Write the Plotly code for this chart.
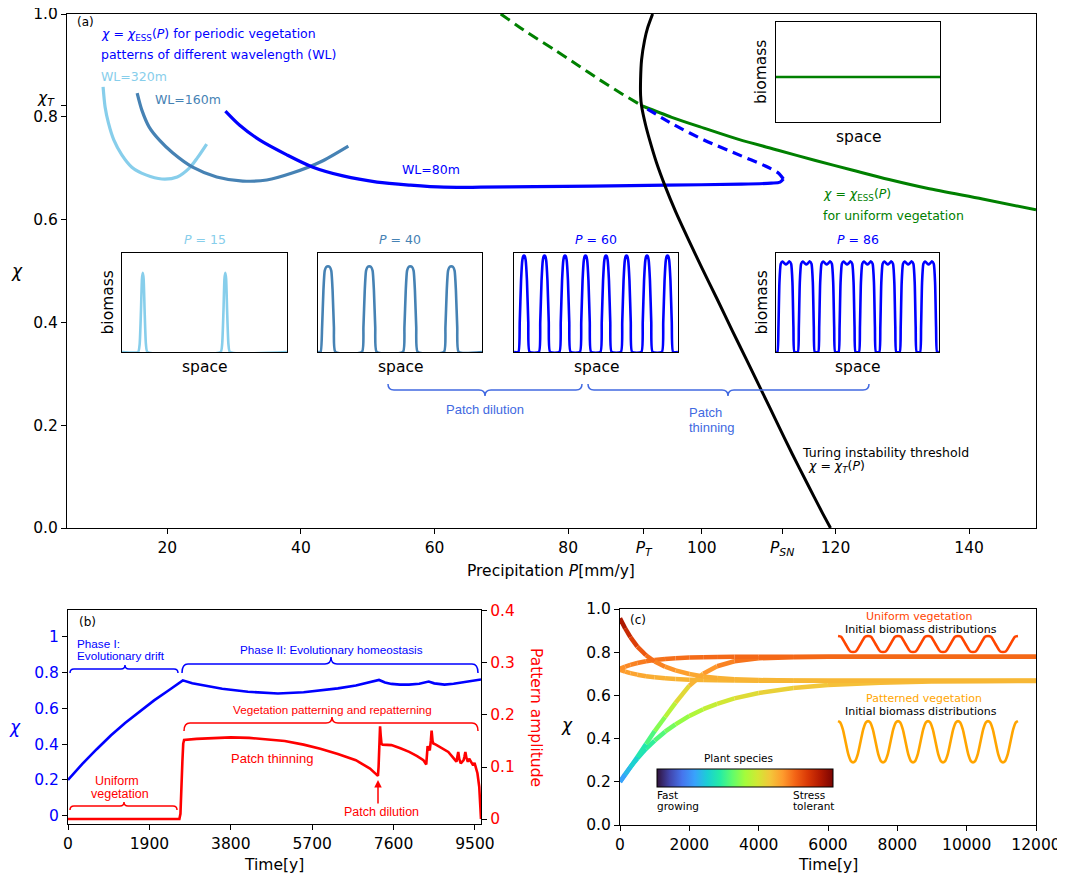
import plotly.graph_objects as go
from plotly.colors import sample_colorscale, sequential

# page is 1065x876; the plot div sits 8px in from the page corner (default body margin)
OFF = 8
FW, FH = 1065 - OFF, 876 - OFF
FONT = "DejaVu Sans"
ARIAL = "Liberation Sans"


def PX(x):
    return (x - OFF) / FW


def PY(y):
    return 1 - (y - OFF) / FH


# ======================= DATA =======================
# ---- Panel (a): precipitation P [mm/y] vs chi ----
TURING_P = [92.63, 91.88, 91.43, 90.98, 90.83, 90.83, 90.98, 91.58, 92.18, 93.23,
            94.44, 96.09, 97.89, 100.0, 102.26, 104.51, 106.77, 109.02, 111.28, 113.53,
            115.79, 118.05, 119.25]
TURING_CHI = [1.0, 0.973, 0.949, 0.911, 0.872, 0.842, 0.821, 0.784, 0.755, 0.710,
              0.667, 0.615, 0.564, 0.506, 0.446, 0.385, 0.325, 0.265, 0.204, 0.144,
              0.086, 0.029, 0.0]

UNI_UNSTABLE_P = [69.9, 74.0, 78.0, 81.5, 84.7, 88.0, 91.1]
UNI_UNSTABLE_CHI = [1.0, 0.963, 0.930, 0.90, 0.872, 0.845, 0.821]
UNI_STABLE_P = [91.1, 95.5, 100.3, 105.5, 111.4, 117.0, 122.6, 128.0, 133.7, 142.0, 150.0]
UNI_STABLE_CHI = [0.821, 0.799, 0.778, 0.756, 0.735, 0.715, 0.696, 0.678, 0.661, 0.64, 0.619]

WL80_P = [28.7, 30.8, 33.8, 37.9, 41.8, 46.3, 51.4, 56.4, 61.4, 66.9,
          75.0, 83.6, 94.7, 105.9, 110.4, 111.7, 112.2]
WL80_CHI = [0.811, 0.784, 0.755, 0.726, 0.702, 0.685, 0.673, 0.667, 0.663, 0.663,
            0.664, 0.665, 0.667, 0.669, 0.671, 0.673, 0.679]
WL80_UNST_P = [112.2, 111.4, 109.2, 105.9, 100.3, 95.9, 91.1]
WL80_UNST_CHI = [0.679, 0.691, 0.706, 0.724, 0.755, 0.784, 0.821]
WL160_P = [15.5, 16.2, 17.3, 18.8, 20.8, 23.8, 27.4, 31.3, 34.9, 38.8, 42.9, 47.1]
WL160_CHI = [0.846, 0.813, 0.780, 0.755, 0.730, 0.702, 0.683, 0.675, 0.677, 0.691, 0.712, 0.743]
WL320_P = [10.4, 10.7, 11.2, 12.0, 13.2, 14.7, 16.8, 19.2, 21.5, 23.3, 24.5, 25.9]
WL320_CHI = [0.858, 0.819, 0.788, 0.755, 0.726, 0.702, 0.687, 0.679, 0.683, 0.700, 0.720, 0.747]

XTICKS_A = [20, 40, 60, 80, 91.3, 100, 112, 120, 140]
XTICKTEXT_A = ["20", "40", "60", "80", "<i>P</i><sub><i>T</i></sub>", "100",
               "<i>P</i><sub><i>SN</i></sub>", "120", "140"]
YTICKS_A = [0.0, 0.2, 0.4, 0.6, 0.8, 0.822, 1.0]
YTICKTEXT_A = ["0.0", "0.2", "0.4", "0.6", "0.8", "", "1.0"]
CHI_T_LABEL = "<i>χ</i><sub><i>T</i></sub>"

# ---- insets: space in [0,1], biomass in [0,1] ----
P15_PEAKS = [0.126, 0.626]
P15_OFFSETS = [-0.028, -0.019, -0.011, -0.005, 0.0, 0.005, 0.011, 0.019, 0.028]
P15_HEIGHTS = [0.0, 0.08, 0.42, 0.74, 0.80, 0.74, 0.42, 0.08, 0.0]
P40_PEAKS = [0.061, 0.313, 0.563, 0.813]
P40_OFFSETS = [-0.045, -0.036, -0.028, -0.02, -0.01, 0.0, 0.01, 0.02, 0.028, 0.036, 0.045]
P40_HEIGHTS = [0.0, 0.25, 0.62, 0.82, 0.86, 0.865, 0.86, 0.82, 0.62, 0.25, 0.0]
P60_PEAKS = [0.061, 0.186, 0.311, 0.436, 0.561, 0.686, 0.811, 0.936]
P60_OFFSETS = [-0.034, -0.026, -0.018, -0.01, -0.004, 0.0, 0.004, 0.01, 0.018, 0.026, 0.034]
P60_HEIGHTS = [0.0, 0.3, 0.72, 0.93, 0.97, 0.975, 0.97, 0.93, 0.72, 0.3, 0.0]
P86_PEAKS = [0.061, 0.186, 0.311, 0.436, 0.561, 0.686, 0.811, 0.936]
P86_OFFSETS = [-0.052, -0.046, -0.04, -0.032, -0.022, -0.012, 0.0, 0.012, 0.022, 0.032, 0.04, 0.046, 0.052]
P86_HEIGHTS = [0.0, 0.25, 0.7, 0.89, 0.915, 0.9, 0.885, 0.9, 0.915, 0.89, 0.7, 0.25, 0.0]
UNIFORM_SPACE = [0.0, 1.0]
UNIFORM_BIOMASS = [0.45, 0.45]

# ---- Panel (b): time [y] ----
B_T_CHI = [0, 335, 670, 1005, 1340, 1675, 2010, 2345, 2680, 2900,
           3200, 3600, 4200, 4900, 5500, 5900, 6300, 6720, 7000, 7260,
           7400, 7550, 7750, 7960, 8200, 8420, 8550, 8790, 9000, 9210,
           9400, 9641]
B_CHI = [0.2, 0.29, 0.372, 0.45, 0.52, 0.585, 0.645, 0.70, 0.757, 0.74,
         0.726, 0.71, 0.693, 0.683, 0.69, 0.70, 0.712, 0.728, 0.742, 0.759,
         0.745, 0.737, 0.733, 0.733, 0.738, 0.75, 0.74, 0.733, 0.738, 0.746,
         0.75, 0.762]
B_T_AMP = [0, 2600, 2625, 2650, 2670, 2690, 2710, 3000, 3400, 3800,
           4230, 4700, 5060, 5500, 5890, 6300, 6720, 7050, 7235, 7250,
           7265, 7285, 7300, 7318, 7343, 7550, 7760, 7965, 8150, 8297,
           8363, 8375, 8395, 8420, 8445, 8470, 8488, 8510, 8529, 8587,
           8750, 8878, 9000, 9068, 9090, 9110, 9135, 9168, 9200, 9235,
           9255, 9276, 9300, 9334, 9365, 9400, 9458, 9490, 9520, 9558,
           9600, 9625, 9641]
B_AMP = [0, 0, 0.01, 0.05, 0.11, 0.145, 0.152, 0.154, 0.156, 0.157,
         0.156, 0.153, 0.150, 0.143, 0.135, 0.125, 0.113, 0.097, 0.083, 0.10,
         0.14, 0.178, 0.16, 0.145, 0.143, 0.142, 0.136, 0.129, 0.121, 0.113,
         0.105, 0.125, 0.14, 0.135, 0.132, 0.15, 0.170, 0.15, 0.145, 0.143,
         0.136, 0.129, 0.117, 0.110, 0.12, 0.129, 0.115, 0.107, 0.11, 0.113,
         0.12, 0.129, 0.118, 0.110, 0.116, 0.112, 0.103, 0.108, 0.1, 0.088,
         0.062, 0.030, 0.0]
XTICKS_B = [0, 1900, 3800, 5700, 7600, 9500]
YTICKS_B = [0, 0.2, 0.4, 0.6, 0.8, 1.0]
YTICKTEXT_B = ["0", "0.2", "0.4", "0.6", "0.8", "1"]
Y2TICKS_B = [0, 0.1, 0.2, 0.3, 0.4]
Y2TICKTEXT_B = ["0", "0.1", "0.2", "0.3", "0.4"]

# ---- Panel (c): time [y] vs chi of 5 trajectories ----
C_T = [0, 150, 300, 500, 750, 1000, 1300, 1600, 2000, 2400,
       2800, 3300, 4000, 5000, 6000, 7500, 9000, 10500, 12000]
C_CHI_1 = [0.957, 0.91, 0.87, 0.826, 0.786, 0.757, 0.733, 0.716, 0.699, 0.688,
           0.681, 0.675, 0.671, 0.669, 0.668, 0.668, 0.668, 0.668, 0.668]
C_CHI_2 = [0.724, 0.733, 0.741, 0.75, 0.758, 0.764, 0.769, 0.772, 0.775, 0.777,
           0.778, 0.779, 0.779, 0.779, 0.779, 0.779, 0.779, 0.779, 0.779]
C_CHI_3 = [0.718, 0.71, 0.703, 0.696, 0.689, 0.684, 0.679, 0.676, 0.673, 0.671,
           0.67, 0.669, 0.668, 0.668, 0.668, 0.668, 0.668, 0.668, 0.668]
C_CHI_4 = [0.2, 0.233, 0.268, 0.315, 0.375, 0.435, 0.5, 0.565, 0.645, 0.70,
           0.735, 0.758, 0.772, 0.777, 0.779, 0.779, 0.779, 0.779, 0.779]
C_CHI_5 = [0.2, 0.236, 0.268, 0.308, 0.353, 0.391, 0.432, 0.466, 0.505, 0.536,
           0.561, 0.586, 0.611, 0.634, 0.648, 0.659, 0.664, 0.666, 0.667]
XTICKS_C = [0, 2000, 4000, 6000, 8000, 10000, 12000]
YTICKS_C = [0.0, 0.2, 0.4, 0.6, 0.8, 1.0]
YTICKTEXT_C = ["0.0", "0.2", "0.4", "0.6", "0.8", "1.0"]

# initial biomass distribution sketches (one period, phase -> relative level)
UNI_WAVE_PHASE = [0.0, 0.1, 0.25, 0.4, 0.5, 0.6, 0.75, 0.9]
UNI_WAVE_LEVEL = [1.0, 0.95, 0.5, 0.05, 0.0, 0.05, 0.5, 0.95]
PAT_WAVE_PHASE = [0.0, 0.07, 0.16, 0.25, 0.34, 0.43, 0.5, 0.57, 0.66, 0.75, 0.84, 0.93]
PAT_WAVE_LEVEL = [1.0, 0.97, 0.8, 0.5, 0.2, 0.03, 0.0, 0.03, 0.2, 0.5, 0.8, 0.97]

# ======================= FIGURE =======================
TURBO = sequential.Turbo
TURBO_SCALE = [[i / (len(TURBO) - 1), c] for i, c in enumerate(TURBO)]

fig = go.Figure()


def add_line(x, y, xa, ya, color, width, dash=None, shape="linear", smoothing=0.8):
    fig.add_trace(go.Scatter(
        x=x, y=y, xaxis=xa, yaxis=ya, mode="lines",
        line=dict(color=color, width=width, dash=dash, shape=shape,
                  smoothing=smoothing if shape == "spline" else None),
        showlegend=False, hoverinfo="skip"))


# ---- panel (a) curves ----
add_line(UNI_UNSTABLE_P, UNI_UNSTABLE_CHI, "x", "y", "#008000", 3, dash="11px,6px", shape="spline")
add_line(UNI_STABLE_P, UNI_STABLE_CHI, "x", "y", "#008000", 3, shape="spline")
add_line(WL320_P, WL320_CHI, "x", "y", "#87CEEB", 3.2, shape="spline")
add_line(WL160_P, WL160_CHI, "x", "y", "#4682B4", 3.2, shape="spline")
add_line(WL80_P, WL80_CHI, "x", "y", "#0000FF", 3.2, shape="spline")
add_line(WL80_UNST_P, WL80_UNST_CHI, "x", "y", "#0000FF", 3.2, dash="10px,6px", shape="spline")
add_line(TURING_P, TURING_CHI, "x", "y", "black", 3, shape="spline", smoothing=0.6)


def tile(peaks, offsets, heights):
    xs, ys = [0.0], [0.0]
    for c in peaks:
        for o, v in zip(offsets, heights):
            xs.append(c + o)
            ys.append(v)
    xs.append(1.0)
    ys.append(0.0)
    return xs, ys


# inset definitions: (box px: left, top, right, bottom), data, color, title, ylabel
INSETS = [
    ((122, 253, 287, 352), tile(P15_PEAKS, P15_OFFSETS, P15_HEIGHTS), "#87CEEB", "<i>P</i> = 15", True),
    ((318, 253, 482, 352), tile(P40_PEAKS, P40_OFFSETS, P40_HEIGHTS), "#4682B4", "<i>P</i> = 40", False),
    ((514, 253, 678, 352), tile(P60_PEAKS, P60_OFFSETS, P60_HEIGHTS), "#0000FF", "<i>P</i> = 60", False),
    ((776, 253, 939, 352), tile(P86_PEAKS, P86_OFFSETS, P86_HEIGHTS), "#0000FF", "<i>P</i> = 86", True),
    ((776, 22, 940, 122), (UNIFORM_SPACE, UNIFORM_BIOMASS), "#008000", None, True),
]

annotations = []
shapes = []


def ann(text, x, y, size=12.5, color="black", xanchor="center", yanchor="middle",
        family=FONT, angle=0):
    annotations.append(dict(text=text, x=PX(x), y=PY(y), xref="paper", yref="paper",
                            showarrow=False, xanchor=xanchor, yanchor=yanchor,
                            textangle=angle,
                            font=dict(size=size, color=color, family=family)))


layout_axes = {}
for i, (box, (sx, sy), col, title, ylab) in enumerate(INSETS):
    n = 5 + i
    l, t, r, b = box
    add_line(sx, sy, f"x{n}", f"y{n}", col, 2.6, shape="spline", smoothing=0.5)
    common = dict(range=[0, 1], showticklabels=False, ticks="", showline=True, mirror=True,
                  linecolor="black", linewidth=1.2, showgrid=False, zeroline=False)
    layout_axes[f"xaxis{n}"] = dict(domain=[PX(l), PX(r)], anchor=f"y{n}", **common)
    layout_axes[f"yaxis{n}"] = dict(domain=[PY(b), PY(t)], anchor=f"x{n}", **common)
    ann("space", (l + r) / 2, b + 15, size=15.5)
    if ylab:
        ann("biomass", l - 15, (t + b) / 2, size=15.5, angle=-90)
    if title:
        ann(title, (l + r) / 2, t - 13, size=12.5, color=col)

# ---- panel (b) ----
add_line(B_T_CHI, B_CHI, "x2", "y2", "#0000FF", 2.6)
add_line(B_T_AMP, B_AMP, "x2", "y3", "#FF0000", 2.6)

# ---- panel (c) ----
for curve in [C_CHI_5, C_CHI_4, C_CHI_3, C_CHI_2, C_CHI_1]:
    for k in range(len(C_T) - 1):
        v = (curve[k] + curve[k + 1]) / 2
        col = sample_colorscale(TURBO_SCALE, [min(max(v, 0), 1)])[0]
        add_line([C_T[k], C_T[k + 1]], [curve[k], curve[k + 1]], "x4", "y4", col, 4.5)


def wave(phase, level, lo, hi, start=6290, period=865, n=6):
    xs, ys = [], []
    for k in range(n):
        for ph, lv in zip(phase, level):
            xs.append(start + (k + ph) * period)
            ys.append(lo + lv * (hi - lo))
    xs.append(start + n * period)
    ys.append(hi)
    return xs, ys


ux, uy = wave(UNI_WAVE_PHASE, UNI_WAVE_LEVEL, 0.801, 0.875)
add_line(ux, uy, "x4", "y4", "#FF4500", 2.6, shape="spline", smoothing=0.6)
wx, wy = wave(PAT_WAVE_PHASE, PAT_WAVE_LEVEL, 0.290, 0.481)
add_line(wx, wy, "x4", "y4", "#FFA500", 2.6, shape="spline", smoothing=0.6)

# colorbar (plant species)
fig.add_trace(go.Scatter(
    x=[-5000], y=[-1], xaxis="x4", yaxis="y4", mode="markers",
    marker=dict(size=1, color=[0.5], colorscale=TURBO_SCALE, cmin=0, cmax=1, showscale=True,
                colorbar=dict(orientation="h", x=PX(745), xanchor="center",
                              y=PY(769), yanchor="top", len=176, lenmode="pixels",
                              thickness=18, thicknessmode="pixels", outlinewidth=1,
                              outlinecolor="black", showticklabels=False, ticks="",
                              xpad=0, ypad=0, borderwidth=0)),
    showlegend=False, hoverinfo="skip"))

# ======================= TEXT =======================
# panel (a)
ann("(a)", 75, 22, size=12, xanchor="left")
ann("<i>χ</i> = <i>χ</i><sub>ESS</sub>(<i>P</i>) for periodic vegetation", 99, 34,
    color="#0000FF", xanchor="left")
ann("patterns of different wavelength (WL)", 99, 54, color="#0000FF", xanchor="left")
ann("WL=320m", 99, 77, color="#87CEEB", xanchor="left")
ann("WL=160m", 153, 99, color="#4682B4", xanchor="left")
ann("WL=80m", 400, 169, color="#0000FF", xanchor="left")
ann("<i>χ</i> = <i>χ</i><sub>ESS</sub>(<i>P</i>)", 821, 195, color="#008000", xanchor="left")
ann("for uniform vegetation", 821, 215, color="#008000", xanchor="left")
ann("Turing instability threshold", 800, 452, xanchor="left")
ann("<i>χ</i> = <i>χ</i><sub><i>T</i></sub>(<i>P</i>)", 806, 467, xanchor="left")
ann("Patch dilution", 485, 410, size=13, color="#4169E1", family=ARIAL)
ann("Patch", 687, 412, size=13, color="#4169E1", family=ARIAL, xanchor="left")
ann("thinning", 687, 427, size=13, color="#4169E1", family=ARIAL, xanchor="left")
ann("Precipitation <i>P</i>[mm/y]", 551, 571, size=15.5)
ann("<i>χ</i>", 17, 271, size=17)
ann(CHI_T_LABEL, 57, 99, size=15.5, xanchor="right")

# panel (b)
ann("(b)", 77, 622, size=12, xanchor="left")
ann("Phase I:", 75, 643, size=11.7, color="#0000FF", family=ARIAL, xanchor="left")
ann("Evolutionary drift", 75, 655, size=11.7, color="#0000FF", family=ARIAL, xanchor="left")
ann("Phase II: Evolutionary homeostasis", 331, 649, size=11.7, color="#0000FF", family=ARIAL)
ann("Vegetation patterning and repatterning", 332, 709, size=11.7, color="#FF0000", family=ARIAL)
ann("Patch thinning", 272, 758, size=13, color="#FF0000", family=ARIAL)
ann("Uniform", 117, 781, size=12.5, color="#FF0000", family=ARIAL)
ann("vegetation", 120, 794, size=12.5, color="#FF0000", family=ARIAL)
ann("Patch dilution", 381, 812, size=12.5, color="#FF0000", family=ARIAL)
ann("Time[y]", 274, 865, size=15.5)
ann("<i>χ</i>", 15, 727, size=17, color="#0000FF")
ann("Pattern amplitude", 536, 717, size=15.5, color="#FF0000", angle=90)
annotations.append(dict(text="", x=PX(378), y=PY(780), xref="paper", yref="paper",
                        showarrow=True, ax=0, ay=25, arrowhead=2, arrowsize=1,
                        arrowwidth=1.5, arrowcolor="#FF0000"))

# panel (c)
ann("(c)", 628, 620, size=12, xanchor="left")
ann("Uniform vegetation", 919, 616, size=11, color="#FF4500")
ann("Initial biomass distributions", 921, 629, size=11)
ann("Patterned vegetation", 924, 698, size=11, color="#FFA500")
ann("Initial biomass distributions", 921, 711, size=11)
ann("Plant species", 738, 758, size=10.5)
ann("Fast", 655, 795, size=10.5, xanchor="left")
ann("growing", 655, 806, size=10.5, xanchor="left")
ann("Stress", 791, 795, size=10.5, xanchor="left")
ann("tolerant", 791, 806, size=10.5, xanchor="left")
ann("Time[y]", 828, 865, size=15.5)
ann("<i>χ</i>", 567, 725, size=17)


# ======================= BRACES =======================
def brace(x0, x1, xc, ye, ym, yt, color, r=6, width=1.5):
    def P(x, y):
        return f"{PX(x):.5f},{PY(y):.5f}"
    path = (f"M {P(x0, ye)} Q {P(x0, ym)} {P(x0 + r, ym)} L {P(xc - r, ym)} "
            f"Q {P(xc, ym)} {P(xc, yt)} Q {P(xc, ym)} {P(xc + r, ym)} "
            f"L {P(x1 - r, ym)} Q {P(x1, ym)} {P(x1, ye)}")
    shapes.append(dict(type="path", path=path, xref="paper", yref="paper",
                       line=dict(color=color, width=width)))


brace(388, 582, 485, 384, 390, 396, "#4169E1")
brace(588, 869, 728, 384, 390, 396, "#4169E1")
brace(70, 178, 125, 673, 669, 665, "#0000FF", r=4)
brace(182, 478, 331, 673, 664, 657, "#0000FF", r=6)
brace(70, 177, 124, 810, 806, 802, "#FF0000", r=4)
brace(184, 478, 332, 731, 723, 717, "#FF0000", r=6)

# ======================= AXES =======================
tickfont = dict(size=15.5, color="black", family=FONT)
base = dict(showline=True, linecolor="black", linewidth=1.2, showgrid=False, zeroline=False,
            ticks="outside", ticklen=5, tickwidth=1.2, tickcolor="black", tickmode="array",
            automargin=False, ticklabeloverflow="allow")

fig.update_layout(
    width=FW, height=FH, margin=dict(l=0, r=0, t=0, b=0, autoexpand=False),
    paper_bgcolor="white", plot_bgcolor="white",
    font=dict(family=FONT, color="black"),
    showlegend=False,
    xaxis=dict(domain=[PX(67), PX(1036)], range=[5, 150], anchor="y", mirror=True,
               tickvals=XTICKS_A, ticktext=XTICKTEXT_A, tickfont=tickfont, **base),
    yaxis=dict(domain=[PY(528), PY(14)], range=[0, 1], anchor="x", mirror=True,
               tickvals=YTICKS_A, ticktext=YTICKTEXT_A, tickfont=tickfont, **base),
    xaxis2=dict(domain=[PX(68), PX(481)], range=[0, 9641], anchor="y2", mirror=True,
                tickvals=XTICKS_B, ticktext=[str(v) for v in XTICKS_B], tickfont=tickfont, **base),
    yaxis2=dict(domain=[PY(824), PY(610)], range=[-0.046, 1.15], anchor="x2",
                tickvals=YTICKS_B, ticktext=YTICKTEXT_B,
                tickfont=dict(size=15.5, color="#0000FF", family=FONT), **base),
    yaxis3=dict(range=[-0.0095, 0.4016], anchor="x2", overlaying="y2", side="right",
                tickvals=Y2TICKS_B, ticktext=Y2TICKTEXT_B,
                tickfont=dict(size=15.5, color="#FF0000", family=FONT), **base),
    xaxis4=dict(domain=[PX(620), PX(1036)], range=[0, 12000], anchor="y4", mirror=True,
                tickvals=XTICKS_C, ticktext=[str(v) for v in XTICKS_C], tickfont=tickfont, **base),
    yaxis4=dict(domain=[PY(825), PY(609)], range=[0, 1], anchor="x4", mirror=True,
                tickvals=YTICKS_C, ticktext=YTICKTEXT_C, tickfont=tickfont, **base),
    annotations=annotations,
    shapes=shapes,
)
fig.update_layout(**layout_axes)

# keep the page free of scrollbars so the whole 1065x876 window shows the figure
fig.write_html("out.html", post_script="document.body.style.overflow='hidden';")
